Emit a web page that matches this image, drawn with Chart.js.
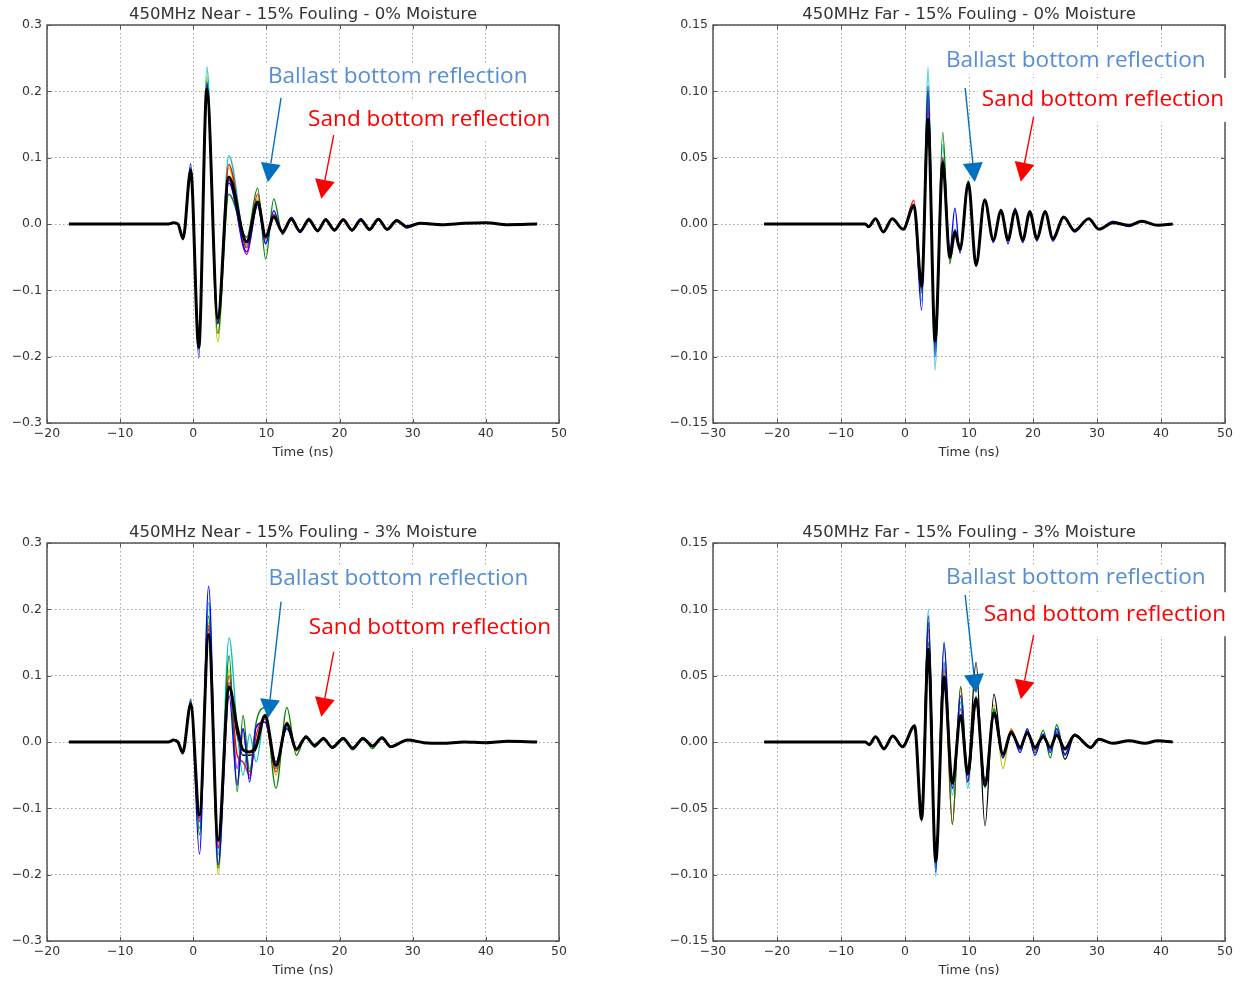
<!DOCTYPE html>
<html>
<head>
<meta charset="utf-8">
<title>450MHz GPR traces - 15% fouling</title>
<script src="https://cdn.jsdelivr.net/npm/chart.js@4.4.0/dist/chart.umd.min.js"></script>
<style>
  html, body { margin: 0; padding: 0; background: #fff; }
  body { width: 1246px; height: 982px; position: relative; overflow: hidden; }
  canvas { position: absolute; }
</style>
</head>
<body>
<canvas id="nearDry" width="623" height="464" style="left:0;top:0"></canvas>
<canvas id="farDry" width="623" height="464" style="left:623px;top:0"></canvas>
<canvas id="nearWet" width="623" height="464" style="left:0;top:518px"></canvas>
<canvas id="farWet" width="623" height="464" style="left:623px;top:518px"></canvas>
<script>
// ---- axis ticks ----
const nearTimeTicks = [-20, -10, 0, 10, 20, 30, 40, 50];
const farTimeTicks = [-30, -20, -10, 0, 10, 20, 30, 40, 50];
const nearAmpTicks = [-0.3, -0.2, -0.1, 0.0, 0.1, 0.2, 0.3];
const farAmpTicks = [-0.15, -0.10, -0.05, 0.00, 0.05, 0.10, 0.15];

// ---- Near antenna, 0% moisture ----
const nearDryTime = [-17, -3.4, -2.7, -2.1, -1.4, -0.35, 0.75, 1.85, 3.35, 4.85, 7.3, 8.8, 9.9, 11.0, 12.2, 13.4, 14.6, 15.8, 17.0, 18.1, 19.3, 20.5, 21.7, 22.9, 24.1, 25.3, 26.5, 27.8, 29.2, 31.0, 34.0, 37.0, 40.0, 43.0, 47.0];
const nearDryMean = [0, 0, 0.002, 0, -0.022, 0.081, -0.186, 0.203, -0.142, 0.071, -0.027, 0.033, -0.019, 0.011, -0.012, 0.007, -0.011, 0.006, -0.010, 0.006, -0.009, 0.006, -0.009, 0.006, -0.008, 0.007, -0.008, 0.005, -0.004, 0.001, -0.001, 0.001, 0.002, -0.001, 0];
const nearDryB = [0, 0, 0.002, 0, -0.024, 0.091, -0.202, 0.212, -0.150, 0.062, -0.042, 0.028, -0.030, 0.020, -0.014, 0.010, -0.013, 0.008, -0.012, 0.008, -0.010, 0.007, -0.010, 0.008, -0.009, 0.008, -0.009, 0.006, -0.006, 0.002, -0.001, 0.001, 0.002, -0.001, 0];
const nearDryG = [0, 0, 0.002, 0, -0.020, 0.084, -0.185, 0.215, -0.165, 0.045, -0.020, 0.054, -0.053, 0.038, -0.016, 0.010, -0.012, 0.009, -0.011, 0.008, -0.011, 0.007, -0.011, 0.008, -0.010, 0.007, -0.009, 0.006, -0.005, 0.001, -0.001, 0.001, 0.002, -0.001, 0];
const nearDryR = [0, 0, 0.002, 0, -0.022, 0.083, -0.184, 0.207, -0.150, 0.090, -0.036, 0.045, -0.022, 0.014, -0.010, 0.010, -0.011, 0.008, -0.010, 0.007, -0.009, 0.008, -0.010, 0.007, -0.008, 0.008, -0.008, 0.006, -0.004, 0.001, -0.001, 0.001, 0.002, -0.001, 0];
const nearDryC = [0, 0, 0.002, 0, -0.021, 0.086, -0.190, 0.237, -0.148, 0.103, -0.032, 0.030, -0.028, 0.012, -0.012, 0.009, -0.010, 0.007, -0.010, 0.007, -0.009, 0.007, -0.009, 0.007, -0.008, 0.007, -0.008, 0.005, -0.004, 0.001, -0.001, 0.001, 0.002, -0.001, 0];
const nearDryM = [0, 0, 0.002, 0, -0.022, 0.082, -0.186, 0.210, -0.150, 0.066, -0.046, 0.030, -0.030, 0.012, -0.013, 0.008, -0.012, 0.007, -0.010, 0.006, -0.010, 0.006, -0.009, 0.007, -0.009, 0.006, -0.008, 0.006, -0.004, 0.001, -0.001, 0.001, 0.002, -0.001, 0];
const nearDryY = [0, 0, 0.002, 0, -0.021, 0.080, -0.182, 0.222, -0.178, 0.085, -0.035, 0.038, -0.024, 0.015, -0.011, 0.010, -0.010, 0.009, -0.009, 0.008, -0.010, 0.008, -0.009, 0.007, -0.008, 0.007, -0.008, 0.006, -0.004, 0.001, -0.001, 0.001, 0.002, -0.001, 0];
const nearDryK = [0, 0, 0.002, 0, -0.022, 0.080, -0.180, 0.200, -0.140, 0.070, -0.025, 0.034, -0.018, 0.010, -0.011, 0.007, -0.010, 0.006, -0.010, 0.006, -0.009, 0.006, -0.009, 0.006, -0.008, 0.006, -0.008, 0.005, -0.004, 0.001, -0.001, 0.001, 0.002, -0.001, 0];

// ---- Far antenna, 0% moisture ----
const farDryTime = [-22, -6.2, -5.7, -4.6, -3.4, -2.0, -0.3, 1.4, 2.6, 3.6, 4.7, 5.9, 7.0, 7.8, 8.6, 9.9, 11.1, 12.45, 13.8, 15.0, 16.1, 17.2, 18.4, 19.5, 20.6, 21.9, 23.1, 24.8, 26.5, 28.7, 30.3, 32.5, 35.0, 37.0, 39.5, 41.8];
const farDryMean = [0, 0, -0.002, 0.004, -0.006, 0.004, -0.004, 0.014, -0.047, 0.079, -0.088, 0.046, -0.025, -0.006, -0.019, 0.031, -0.031, 0.018, -0.012, 0.010, -0.012, 0.010, -0.012, 0.009, -0.011, 0.009, -0.011, 0.005, -0.005, 0.004, -0.004, 0.001, -0.001, 0.002, -0.001, 0];
const farDryB = [0, 0, -0.002, 0.004, -0.006, 0.004, -0.004, 0.013, -0.065, 0.104, -0.100, 0.048, -0.020, 0.012, -0.022, 0.030, -0.032, 0.018, -0.014, 0.011, -0.015, 0.012, -0.014, 0.010, -0.013, 0.010, -0.013, 0.006, -0.006, 0.004, -0.004, 0.002, -0.002, 0.002, -0.001, 0];
const farDryG = [0, 0, -0.002, 0.004, -0.006, 0.004, -0.004, 0.015, -0.050, 0.100, -0.095, 0.069, -0.030, -0.004, -0.017, 0.032, -0.030, 0.018, -0.012, 0.011, -0.012, 0.011, -0.012, 0.010, -0.011, 0.010, -0.012, 0.005, -0.006, 0.004, -0.004, 0.001, -0.001, 0.002, -0.001, 0];
const farDryR = [0, 0, -0.002, 0.004, -0.006, 0.004, -0.004, 0.018, -0.050, 0.090, -0.090, 0.050, -0.027, -0.005, -0.020, 0.030, -0.030, 0.019, -0.012, 0.010, -0.012, 0.010, -0.011, 0.009, -0.011, 0.010, -0.011, 0.005, -0.005, 0.004, -0.004, 0.002, -0.001, 0.002, -0.001, 0];
const farDryC = [0, 0, -0.002, 0.004, -0.006, 0.004, -0.004, 0.014, -0.058, 0.118, -0.110, 0.060, -0.024, -0.004, -0.018, 0.033, -0.030, 0.017, -0.012, 0.009, -0.012, 0.010, -0.012, 0.009, -0.011, 0.009, -0.011, 0.005, -0.005, 0.004, -0.004, 0.001, -0.001, 0.002, -0.001, 0];
const farDryM = [0, 0, -0.002, 0.004, -0.006, 0.004, -0.004, 0.015, -0.052, 0.095, -0.092, 0.050, -0.026, -0.006, -0.020, 0.031, -0.031, 0.018, -0.013, 0.010, -0.012, 0.010, -0.013, 0.009, -0.011, 0.009, -0.011, 0.005, -0.005, 0.004, -0.004, 0.001, -0.001, 0.002, -0.001, 0];
const farDryY = [0, 0, -0.002, 0.004, -0.006, 0.004, -0.004, 0.014, -0.048, 0.085, -0.090, 0.048, -0.025, -0.006, -0.019, 0.030, -0.031, 0.018, -0.012, 0.010, -0.012, 0.010, -0.012, 0.009, -0.011, 0.009, -0.011, 0.005, -0.005, 0.004, -0.004, 0.001, -0.001, 0.002, -0.001, 0];
const farDryK = [0, 0, -0.002, 0.004, -0.006, 0.004, -0.004, 0.014, -0.046, 0.085, -0.090, 0.046, -0.025, -0.006, -0.019, 0.031, -0.031, 0.018, -0.012, 0.010, -0.012, 0.010, -0.012, 0.009, -0.011, 0.009, -0.011, 0.005, -0.005, 0.004, -0.004, 0.001, -0.001, 0.002, -0.001, 0];

// ---- Near antenna, 3% moisture ----
const nearWetTime = [-17, -3.4, -2.7, -2.1, -1.45, -0.35, 0.85, 2.1, 3.4, 4.9, 6.0, 6.8, 7.7, 8.6, 9.8, 11.3, 12.8, 14.1, 15.4, 16.6, 17.8, 19.0, 20.5, 21.8, 23.2, 24.5, 25.8, 27.0, 29.3, 31.5, 34.0, 37.0, 40.0, 43.0, 47.0];
const nearWetMean = [0, 0, 0.003, 0, -0.016, 0.057, -0.110, 0.162, -0.148, 0.083, 0.022, -0.012, -0.015, -0.006, 0.040, -0.035, 0.027, -0.011, 0.007, -0.005, 0.005, -0.008, 0.005, -0.009, 0.005, -0.006, 0.006, -0.007, 0.003, -0.001, -0.002, 0, -0.001, 0.001, 0];
const nearWetB = [0, 0, 0.003, 0, -0.018, 0.062, -0.169, 0.235, -0.185, 0.070, -0.065, 0.020, -0.060, 0.022, 0.030, -0.030, 0.020, -0.012, 0.008, -0.006, 0.006, -0.009, 0.006, -0.010, 0.006, -0.007, 0.007, -0.008, 0.003, -0.001, -0.002, 0, -0.001, 0.001, 0];
const nearWetG = [0, 0, 0.003, 0, -0.017, 0.065, -0.140, 0.190, -0.190, 0.130, -0.075, 0.040, -0.045, 0.030, 0.052, -0.070, 0.052, -0.020, 0.010, -0.008, 0.007, -0.010, 0.007, -0.012, 0.007, -0.010, 0.008, -0.008, 0.003, -0.001, -0.002, 0, -0.001, 0.001, 0];
const nearWetR = [0, 0, 0.003, 0, -0.016, 0.058, -0.120, 0.175, -0.160, 0.100, -0.020, -0.030, -0.050, 0.010, 0.035, -0.045, 0.030, -0.010, 0.008, -0.005, 0.006, -0.008, 0.005, -0.009, 0.006, -0.006, 0.006, -0.007, 0.003, -0.001, -0.002, 0, -0.001, 0.001, 0];
const nearWetC = [0, 0, 0.003, 0, -0.016, 0.060, -0.130, 0.210, -0.170, 0.157, 0.020, -0.050, 0.012, -0.030, 0.042, -0.040, 0.022, -0.010, 0.008, -0.005, 0.006, -0.008, 0.006, -0.009, 0.005, -0.007, 0.006, -0.007, 0.003, -0.001, -0.002, 0, -0.001, 0.001, 0];
const nearWetM = [0, 0, 0.003, 0, -0.016, 0.055, -0.115, 0.170, -0.160, 0.090, -0.040, 0.020, -0.055, 0.025, 0.030, -0.040, 0.025, -0.012, 0.007, -0.006, 0.005, -0.008, 0.005, -0.009, 0.005, -0.006, 0.006, -0.007, 0.003, -0.001, -0.002, 0, -0.001, 0.001, 0];
const nearWetY = [0, 0, 0.003, 0, -0.016, 0.058, -0.120, 0.180, -0.200, 0.110, -0.060, 0.010, -0.040, 0.000, 0.035, -0.050, 0.030, -0.014, 0.009, -0.006, 0.006, -0.009, 0.006, -0.010, 0.006, -0.007, 0.007, -0.008, 0.003, -0.001, -0.002, 0, -0.001, 0.001, 0];
const nearWetK = [0, 0, 0.003, 0, -0.016, 0.056, -0.110, 0.160, -0.150, 0.080, 0.010, -0.020, -0.020, -0.010, 0.038, -0.036, 0.027, -0.011, 0.007, -0.005, 0.005, -0.008, 0.005, -0.009, 0.005, -0.006, 0.006, -0.007, 0.003, -0.001, -0.002, 0, -0.001, 0.001, 0];

// ---- Far antenna, 3% moisture ----
const farWetTime = [-22, -6.2, -5.6, -4.6, -3.3, -1.9, -0.4, 1.5, 2.6, 3.65, 4.8, 6.1, 7.4, 8.7, 9.8, 11.1, 12.5, 13.9, 15.3, 16.6, 18.0, 19.1, 20.3, 21.6, 22.7, 23.7, 25.0, 26.5, 29.0, 30.3, 32.5, 35.0, 37.5, 39.5, 41.8];
const farWetMean = [0, 0, -0.002, 0.004, -0.005, 0.0045, -0.0035, 0.012, -0.058, 0.070, -0.090, 0.049, -0.031, 0.020, -0.024, 0.033, -0.033, 0.022, -0.009, 0.007, -0.004, 0.007, -0.004, 0.004, -0.004, 0.005, -0.005, 0.005, -0.004, 0.002, -0.001, 0.001, -0.001, 0.001, 0];
const farWetB = [0, 0, -0.002, 0.004, -0.005, 0.0045, -0.0035, 0.012, -0.060, 0.095, -0.098, 0.075, -0.035, 0.035, -0.030, 0.030, -0.030, 0.020, -0.012, 0.008, -0.008, 0.010, -0.010, 0.006, -0.008, 0.010, -0.010, 0.006, -0.004, 0.002, -0.001, 0.001, -0.001, 0.001, 0];
const farWetG = [0, 0, -0.002, 0.004, -0.006, 0.005, -0.004, 0.013, -0.055, 0.090, -0.095, 0.074, -0.062, 0.042, -0.025, 0.030, -0.030, 0.025, -0.012, 0.008, -0.006, 0.008, -0.008, 0.009, -0.012, 0.013, -0.009, 0.006, -0.005, 0.002, -0.001, 0.001, -0.001, 0.001, 0];
const farWetR = [0, 0, -0.002, 0.004, -0.005, 0.0045, -0.0035, 0.012, -0.056, 0.085, -0.090, 0.055, -0.062, 0.041, -0.030, 0.030, -0.030, 0.020, -0.010, 0.009, -0.005, 0.008, -0.006, 0.005, -0.005, 0.006, -0.006, 0.005, -0.004, 0.002, -0.001, 0.001, -0.001, 0.001, 0];
const farWetC = [0, 0, -0.002, 0.004, -0.005, 0.0045, -0.0035, 0.012, -0.058, 0.100, -0.101, 0.060, -0.040, 0.030, -0.035, 0.035, -0.035, 0.025, -0.010, 0.008, -0.005, 0.008, -0.006, 0.006, -0.006, 0.008, -0.006, 0.005, -0.004, 0.002, -0.001, 0.001, -0.001, 0.001, 0];
const farWetM = [0, 0, -0.002, 0.004, -0.005, 0.0045, -0.0035, 0.012, -0.058, 0.090, -0.092, 0.060, -0.035, 0.025, -0.025, 0.030, -0.030, 0.020, -0.010, 0.008, -0.005, 0.008, -0.005, 0.006, -0.006, 0.007, -0.006, 0.005, -0.004, 0.002, -0.001, 0.001, -0.001, 0.001, 0];
const farWetY = [0, 0, -0.002, 0.004, -0.005, 0.0045, -0.0035, 0.012, -0.055, 0.080, -0.090, 0.050, -0.030, 0.025, -0.025, 0.030, -0.030, 0.028, -0.020, 0.010, -0.006, 0.009, -0.006, 0.006, -0.006, 0.007, -0.006, 0.005, -0.004, 0.002, -0.001, 0.001, -0.001, 0.001, 0];
const farWetK = [0, 0, -0.002, 0.004, -0.005, 0.0045, -0.0035, 0.012, -0.056, 0.075, -0.090, 0.045, -0.030, 0.020, -0.020, 0.060, -0.063, 0.036, -0.010, 0.006, -0.004, 0.006, -0.004, 0.004, -0.006, 0.008, -0.013, 0.005, -0.004, 0.002, -0.001, 0.001, -0.001, 0.001, 0];

// matplotlib "bgrcmyk" cycle for the individual scans
const traceColors = ['#0000ff', '#008000', '#ff0000', '#00bfbf', '#bf00bf', '#bfbf00', '#000000'];

const BLUE_TEXT = '#558ed5';
const BLUE_ARROW = '#0070c0';
const RED = '#ff0000';

function fmtTick(v, decimals) {
  const s = Math.abs(v).toFixed(decimals);
  return v < 0 ? '\u2212' + s : s;
}

function drawArrow(ctx, x0, y0, x1, y1, color) {
  const ang = Math.atan2(y1 - y0, x1 - x0);
  const headLen = 19, headHalf = 10;
  const bx = x1 - headLen * Math.cos(ang);
  const by = y1 - headLen * Math.sin(ang);
  ctx.strokeStyle = color;
  ctx.lineWidth = 1.4;
  ctx.beginPath();
  ctx.moveTo(x0, y0);
  ctx.lineTo(bx, by);
  ctx.stroke();
  ctx.fillStyle = color;
  ctx.beginPath();
  ctx.moveTo(x1, y1);
  ctx.lineTo(bx + headHalf * Math.sin(ang), by - headHalf * Math.cos(ang));
  ctx.lineTo(bx - headHalf * Math.sin(ang), by + headHalf * Math.cos(ang));
  ctx.closePath();
  ctx.fill();
}

// axes frame, inward ticks, title and the reflection notes
const framePlugin = {
  id: 'frame',
  afterDraw(chart, args, opts) {
    const { ctx, chartArea: a } = chart;
    const xs = chart.scales.x, ys = chart.scales.y;
    ctx.save();

    ctx.strokeStyle = '#555';
    ctx.lineWidth = 1;
    ctx.beginPath();
    xs.ticks.forEach(t => {
      const px = Math.round(xs.getPixelForValue(t.value)) + 0.5;
      ctx.moveTo(px, a.bottom); ctx.lineTo(px, a.bottom - 4);
      ctx.moveTo(px, a.top); ctx.lineTo(px, a.top + 4);
    });
    ys.ticks.forEach(t => {
      const py = Math.round(ys.getPixelForValue(t.value)) + 0.5;
      ctx.moveTo(a.left, py); ctx.lineTo(a.left + 4, py);
      ctx.moveTo(a.right, py); ctx.lineTo(a.right - 4, py);
    });
    ctx.stroke();

    ctx.lineWidth = 1.5;
    ctx.strokeRect(a.left, a.top, a.right - a.left, a.bottom - a.top);

    ctx.fillStyle = '#333';
    ctx.font = '16.5px "DejaVu Sans"';
    ctx.textAlign = 'center';
    ctx.textBaseline = 'middle';
    ctx.fillText(opts.title, (a.left + a.right) / 2, a.top - 10);

    ctx.font = '22.6px "Open Sans"';
    ctx.textAlign = 'left';
    opts.notes.forEach(n => {
      const x = xs.getPixelForValue(n.at[0]);
      const y = ys.getPixelForValue(n.at[1]);
      const w = ctx.measureText(n.text).width;
      ctx.fillStyle = '#fff';
      ctx.fillRect(x - n.pad[0], y - 12 - n.pad[1], w + 2 * n.pad[0], 24 + 2 * n.pad[1]);
      ctx.fillStyle = n.color;
      ctx.fillText(n.text, x, y);
    });
    opts.arrows.forEach(r => {
      drawArrow(ctx,
        xs.getPixelForValue(r.from[0]), ys.getPixelForValue(r.from[1]),
        xs.getPixelForValue(r.to[0]), ys.getPixelForValue(r.to[1]), r.color);
    });
    ctx.restore();
  }
};

function buildPanel(id, cfg) {
  const toPoints = vals => cfg.time.map((t, i) => ({ x: t, y: vals[i] }));
  const datasets = [{
    data: toPoints(cfg.mean),
    borderColor: '#000',
    borderWidth: 3
  }];
  cfg.traces.forEach((vals, i) => {
    datasets.push({ data: toPoints(vals), borderColor: traceColors[i], borderWidth: 1.3 });
  });
  datasets.forEach(d => {
    d.pointRadius = 0;
    d.fill = false;
    d.cubicInterpolationMode = 'monotone';
  });

  const tickFont = { family: 'DejaVu Sans', size: 12.5 };
  const gridStyle = { color: '#a8a8a8', lineWidth: 1, drawTicks: false };
  const borderStyle = { display: false, dash: [1.5, 2.5] };

  return new Chart(document.getElementById(id), {
    type: 'line',
    data: { datasets },
    options: {
      responsive: false,
      animation: false,
      events: [],
      layout: { padding: { left: cfg.padLeft, right: cfg.padRight, top: 25, bottom: 1 } },
      plugins: {
        legend: { display: false },
        tooltip: { enabled: false },
        frame: { title: cfg.title, notes: cfg.notes, arrows: cfg.arrows }
      },
      scales: {
        x: {
          type: 'linear',
          min: cfg.xTicks[0],
          max: cfg.xTicks[cfg.xTicks.length - 1],
          afterBuildTicks: s => { s.ticks = cfg.xTicks.map(v => ({ value: v })); },
          afterFit: s => { s.height = 40; },
          grid: gridStyle,
          border: borderStyle,
          ticks: {
            font: tickFont, color: '#333', padding: 3, maxRotation: 0, autoSkip: false,
            callback: v => fmtTick(v, 0)
          },
          title: {
            display: true, text: 'Time (ns)', color: '#333',
            font: { family: 'DejaVu Sans', size: 13 }, padding: { top: 0, bottom: 3 }
          }
        },
        y: {
          min: cfg.yTicks[0],
          max: cfg.yTicks[cfg.yTicks.length - 1],
          afterBuildTicks: s => { s.ticks = cfg.yTicks.map(v => ({ value: v })); },
          afterFit: s => { s.width = cfg.yAxisWidth; },
          grid: gridStyle,
          border: borderStyle,
          ticks: {
            font: tickFont, color: '#333', padding: 5, autoSkip: false,
            callback: v => fmtTick(v, cfg.decimals)
          }
        }
      }
    },
    plugins: [framePlugin]
  });
}

const nearLayout = { xTicks: nearTimeTicks, yTicks: nearAmpTicks, decimals: 1, yAxisWidth: 47, padLeft: 0, padRight: 64 };
const farLayout = { xTicks: farTimeTicks, yTicks: farAmpTicks, decimals: 2, yAxisWidth: 50, padLeft: 40, padRight: 21 };

buildPanel('nearDry', Object.assign({}, nearLayout, {
  title: '450MHz Near - 15% Fouling - 0% Moisture',
  time: nearDryTime, mean: nearDryMean,
  traces: [nearDryB, nearDryG, nearDryR, nearDryC, nearDryM, nearDryY, nearDryK],
  notes: [
    { text: 'Ballast bottom reflection', color: BLUE_TEXT, at: [10.2, 0.222], pad: [2, 1] },
    { text: 'Sand bottom reflection', color: RED, at: [15.7, 0.158], pad: [4, 8] }
  ],
  arrows: [
    { color: BLUE_ARROW, from: [12.0, 0.190], to: [10.2, 0.063] },
    { color: RED, from: [19.2, 0.134], to: [17.5, 0.038] }
  ]
}));

buildPanel('farDry', Object.assign({}, farLayout, {
  title: '450MHz Far - 15% Fouling - 0% Moisture',
  time: farDryTime, mean: farDryMean,
  traces: [farDryB, farDryG, farDryR, farDryC, farDryM, farDryY, farDryK],
  notes: [
    { text: 'Ballast bottom reflection', color: BLUE_TEXT, at: [6.4, 0.1229], pad: [2, 1] },
    { text: 'Sand bottom reflection', color: RED, at: [12.0, 0.0935], pad: [4, 10] }
  ],
  arrows: [
    { color: BLUE_ARROW, from: [9.4, 0.1025], to: [10.9, 0.0317] },
    { color: RED, from: [20.1, 0.0809], to: [18.1, 0.0319] }
  ]
}));

buildPanel('nearWet', Object.assign({}, nearLayout, {
  title: '450MHz Near - 15% Fouling - 3% Moisture',
  time: nearWetTime, mean: nearWetMean,
  traces: [nearWetB, nearWetG, nearWetR, nearWetC, nearWetM, nearWetY, nearWetK],
  notes: [
    { text: 'Ballast bottom reflection', color: BLUE_TEXT, at: [10.3, 0.247], pad: [2, 1] },
    { text: 'Sand bottom reflection', color: RED, at: [15.8, 0.172], pad: [4, 8] }
  ],
  arrows: [
    { color: BLUE_ARROW, from: [12.0, 0.2115], to: [10.2, 0.0357] },
    { color: RED, from: [19.2, 0.136], to: [17.5, 0.038] }
  ]
}));

buildPanel('farWet', Object.assign({}, farLayout, {
  title: '450MHz Far - 15% Fouling - 3% Moisture',
  time: farWetTime, mean: farWetMean,
  traces: [farWetB, farWetG, farWetR, farWetC, farWetM, farWetY, farWetK],
  notes: [
    { text: 'Ballast bottom reflection', color: BLUE_TEXT, at: [6.4, 0.1236], pad: [2, 1] },
    { text: 'Sand bottom reflection', color: RED, at: [12.3, 0.0963], pad: [4, 10] }
  ],
  arrows: [
    { color: BLUE_ARROW, from: [9.4, 0.1108], to: [11.1, 0.0367] },
    { color: RED, from: [20.1, 0.0807], to: [18.1, 0.0322] }
  ]
}));
</script>
</body>
</html>
